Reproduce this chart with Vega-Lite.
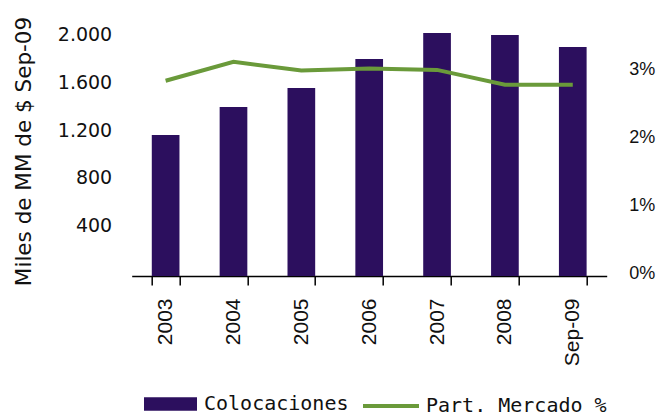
{
  "$schema": "https://vega.github.io/schema/vega-lite/v6.json",
  "width": 475,
  "height": 250,
  "autosize": {"type": "none"},
  "padding": {"left": 131.7, "top": 26, "right": 51.3, "bottom": 141},
  "background": "white",
  "config": {"view": {"stroke": null}},
  "data": {
    "values": [
      {"period": "2003", "value": 1185, "share": 0.0288},
      {"period": "2004", "value": 1420, "share": 0.0316},
      {"period": "2005", "value": 1579, "share": 0.0303},
      {"period": "2006", "value": 1823, "share": 0.0306},
      {"period": "2007", "value": 2041, "share": 0.0304},
      {"period": "2008", "value": 2024, "share": 0.0282},
      {"period": "Sep-09", "value": 1924, "share": 0.0282}
    ]
  },
  "encoding": {
    "x": {
      "field": "period",
      "type": "nominal",
      "sort": null,
      "scale": {"paddingInner": 0.592, "paddingOuter": 0.296},
      "axis": {
        "title": null,
        "labelAngle": -90,
        "labelFont": "Liberation Sans",
        "labelFontSize": 21,
        "labelColor": "#111111",
        "labelPadding": 13,
        "tickBand": "extent",
        "tickSize": 9,
        "tickColor": "#000000",
        "tickWidth": 1.5,
        "domainColor": "#000000",
        "domainWidth": 1.5,
        "grid": false
      }
    }
  },
  "layer": [
    {
      "mark": {"type": "bar"},
      "encoding": {
        "y": {
          "field": "value",
          "type": "quantitative",
          "scale": {"domain": [0, 2100], "nice": false},
          "axis": {
            "orient": "left",
            "title": "Miles de MM de $ Sep-09",
            "titleFont": "DejaVu Sans",
            "titleFontSize": 21.5,
            "titleFontWeight": "normal",
            "titleColor": "#111111",
            "titlePadding": 22,
            "values": [400, 800, 1200, 1600, 2000],
            "labelExpr": "replace(format(datum.value, ','), ',', '.')",
            "labelFont": "DejaVu Sans",
            "labelFontSize": 19,
            "labelColor": "#111111",
            "labelPadding": 20,
            "labelOffset": -3,
            "ticks": false,
            "tickSize": 0,
            "domain": false,
            "grid": false
          }
        },
        "fill": {
          "datum": "Colocaciones",
          "type": "nominal",
          "scale": {"range": ["#2C0F5E"]},
          "legend": {
            "orient": "none",
            "legendX": 12.3,
            "legendY": 351.5,
            "title": null,
            "padding": 0,
            "symbolType": "M-1,-0.255H1V0.255H-1Z",
            "symbolSize": 2809,
            "symbolStrokeWidth": 0,
            "labelOffset": 7,
            "labelLimit": 0,
            "labelFont": "DejaVu Sans Mono",
            "labelFontSize": 20,
            "labelColor": "#111111"
          }
        }
      }
    },
    {
      "mark": {"type": "line", "strokeWidth": 4, "interpolate": "linear"},
      "encoding": {
        "y": {
          "field": "share",
          "type": "quantitative",
          "scale": {"domain": [0, 0.036873], "nice": false},
          "axis": {
            "orient": "right",
            "title": null,
            "values": [0, 0.01, 0.02, 0.03],
            "format": ".0%",
            "labelFont": "Liberation Sans",
            "labelFontSize": 18,
            "labelColor": "#111111",
            "labelPadding": 22,
            "labelOffset": -3,
            "ticks": false,
            "tickSize": 0,
            "domain": false,
            "grid": false
          }
        },
        "stroke": {
          "datum": "Part. Mercado %",
          "type": "nominal",
          "scale": {"range": ["#6A9A3A"]},
          "legend": {
            "orient": "none",
            "legendX": 229.3,
            "legendY": 350,
            "title": null,
            "padding": 0,
            "symbolType": "stroke",
            "symbolSize": 3136,
            "symbolStrokeWidth": 4,
            "labelOffset": 5,
            "labelLimit": 0,
            "labelFont": "DejaVu Sans Mono",
            "labelFontSize": 20,
            "labelColor": "#111111"
          }
        }
      }
    }
  ],
  "resolve": {"scale": {"y": "independent"}}
}
